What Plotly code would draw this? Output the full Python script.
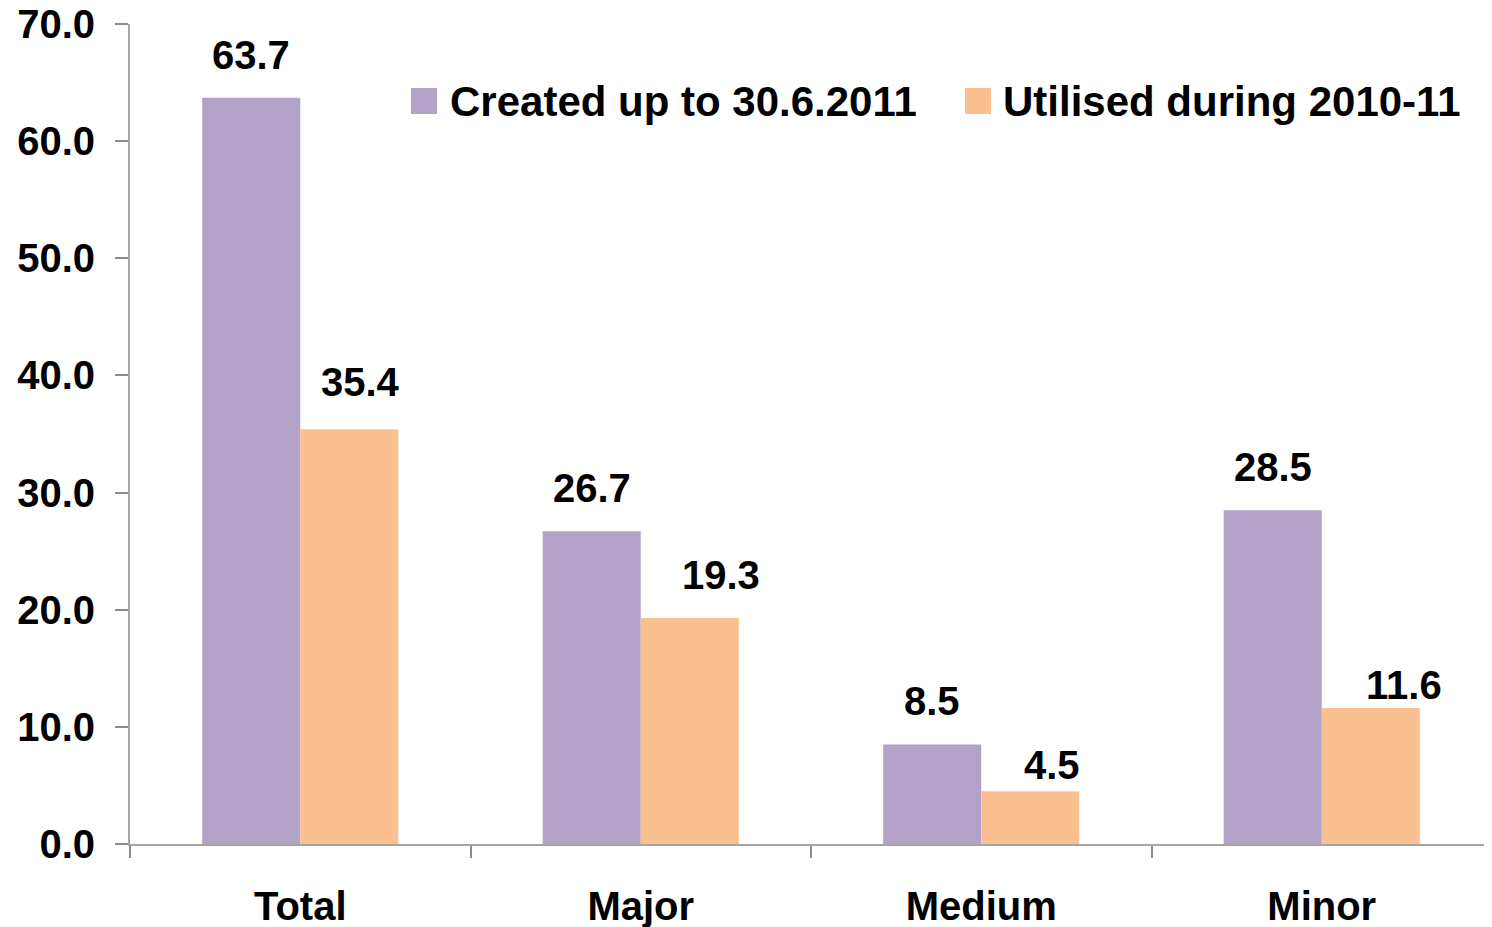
import plotly.graph_objects as go

categories = ["Total", "Major", "Medium", "Minor"]
created = [63.7, 26.7, 8.5, 28.5]
utilised = [35.4, 19.3, 4.5, 11.6]
series_names = ["Created up to 30.6.2011", "Utilised during 2010-11"]
y_ticks = [0, 10, 20, 30, 40, 50, 60, 70]

# styling (page body has an 8px margin, so the figure is offset by 8px)
OFF = 8
W, H = 1492 - OFF, 927 - OFF
ML, MR, MT, MB = 130 - OFF, 0, 24 - OFF, 83
PURPLE = "#B3A2C7"
ORANGE = "#FAC090"
AXIS = "#A6A6A6"
FONT = "Liberation Sans, Arial, sans-serif"
BARGAP = 0.424
# manual label nudges (px) for the second series, as in the original
utl_dx = [11, 31, 22, 33]
utl_dy = [47, 43, 26, 23]

fig = go.Figure()
fig.add_trace(go.Bar(x=categories, y=created, name=series_names[0],
                     marker=dict(color=PURPLE, line=dict(width=0)), showlegend=False))
fig.add_trace(go.Bar(x=categories, y=utilised, name=series_names[1],
                     marker=dict(color=ORANGE, line=dict(width=0)), showlegend=False))

plot_w = W - ML - MR
plot_h = H - MT - MB
cat_px = plot_w / len(categories)
bar_w = cat_px * (1 - BARGAP) / 2

bold40 = dict(family=FONT, size=40, color="black", weight="bold")

annotations = []
for i, c in enumerate(categories):
    annotations.append(dict(x=c, y=created[i], xref="x", yref="y", text=f"{created[i]:.1f}",
                            showarrow=False, xshift=-bar_w / 2, yshift=43, yanchor="middle",
                            font=bold40))
    annotations.append(dict(x=c, y=utilised[i], xref="x", yref="y", text=f"{utilised[i]:.1f}",
                            showarrow=False, xshift=bar_w / 2 + utl_dx[i], yshift=utl_dy[i], yanchor="middle",
                            font=bold40))

# manual legend (large square swatches); pixel positions are page pixels
def px_x(px):
    return (px - OFF - ML) / plot_w
def px_y(py):
    return 1 - (py - OFF - MT) / plot_h

shapes = []
legend_items = [(411, 437, 450, PURPLE, series_names[0]), (965, 991, 1003, ORANGE, series_names[1])]
for x0, x1, tx, col, name in legend_items:
    shapes.append(dict(type="rect", xref="paper", yref="paper", x0=px_x(x0), x1=px_x(x1),
                       y0=px_y(114), y1=px_y(88), fillcolor=col, line=dict(width=0)))
    annotations.append(dict(x=px_x(tx - 2), y=px_y(102), xref="paper", yref="paper", text=name,
                            showarrow=False, xanchor="left", yanchor="middle",
                            font=dict(family=FONT, size=42, color="black", weight="bold")))

fig.update_layout(
    width=W, height=H,
    margin=dict(l=ML, r=MR, t=MT, b=MB, autoexpand=False),
    paper_bgcolor="white", plot_bgcolor="white",
    barmode="group", bargap=BARGAP, bargroupgap=0,
    annotations=annotations, shapes=shapes,
    font=dict(family=FONT, size=40, color="black"),
    xaxis=dict(showline=True, linecolor=AXIS, linewidth=2, ticks="outside", tickson="boundaries",
               ticklen=12, tickcolor="#8C8C8C", tickwidth=1.5, showgrid=False, zeroline=False,
               tickfont=bold40, ticklabelstandoff=26, ticklabeloverflow="allow", automargin=False),
    yaxis=dict(range=[0, 70], tickvals=y_ticks, tickformat=".1f", showline=True, linecolor=AXIS,
               linewidth=2, ticks="outside", ticklen=13, tickcolor="#8C8C8C", tickwidth=1.5,
               showgrid=False, zeroline=False, tickfont=bold40, ticklabelstandoff=12,
               ticklabeloverflow="allow", automargin=False),
)

fig.write_html("out.html")
